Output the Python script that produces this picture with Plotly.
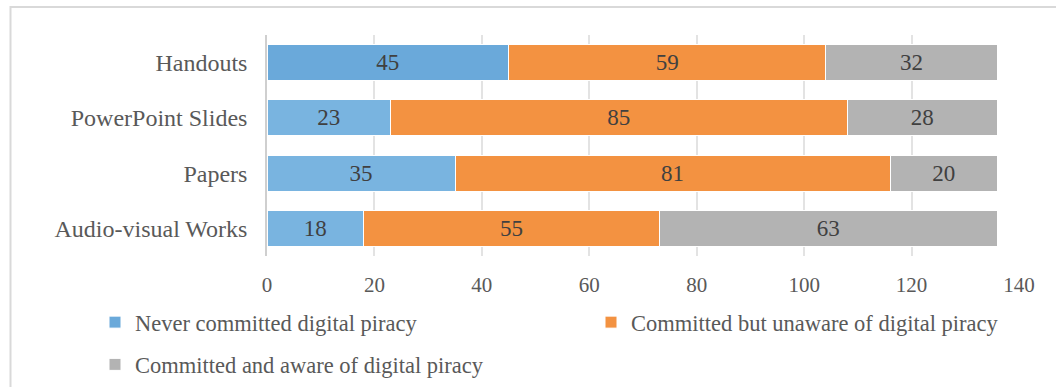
import plotly.graph_objects as go

categories = ["Handouts", "PowerPoint Slides", "Papers", "Audio-visual Works"]
never = [45, 23, 35, 18]
unaware = [59, 85, 81, 55]
aware = [32, 28, 20, 63]
series_names = ["Never committed digital piracy",
                "Committed but unaware of digital piracy",
                "Committed and aware of digital piracy"]
x_ticks = [0, 20, 40, 60, 80, 100, 120, 140]

FONT = "Liberation Serif, Times New Roman, serif"
blue_colors = ["#6AA9DA", "#79B4E0", "#79B4E0", "#79B4E0"]
colors = [blue_colors, "#F39241", "#B3B3B3"]
legend_ids = ["legend", "legend2", "legend"]

# plot area geometry (pixels)
L, R, T, B = 267, 1019, 35, 256
W, H = R - L, B - T


def px_x(p):
    return (p - L) / W


def px_y(p):
    return (B - p) / H


fig = go.Figure()
for i, (name, vals, col, lg) in enumerate(zip(series_names, [never, unaware, aware], colors, legend_ids)):
    fig.add_trace(go.Bar(
        y=categories, x=vals, name=name, orientation="h",
        marker=dict(color=col, line=dict(color="#FFFFFF", width=1)),
        text=[str(v) for v in vals], textposition="inside",
        insidetextanchor="middle", constraintext="none",
        textfont=dict(family=FONT, size=23, color="#404040"),
        hoverinfo="skip", legend=lg, legendgroup="g%d" % i,
    ))

legend_common = dict(orientation="v", xanchor="left", yanchor="top",
                     font=dict(family=FONT, size=22.5, color="#595959"),
                     itemwidth=30, tracegroupgap=10, traceorder="grouped",
                     bgcolor="rgba(0,0,0,0)", borderwidth=0)

fig.update_layout(
    barmode="stack", bargap=0.35,
    width=1056, height=387,
    margin=dict(l=L, r=1056 - R, t=T, b=387 - B, autoexpand=False),
    paper_bgcolor="white", plot_bgcolor="white",
    font=dict(family=FONT, size=22, color="#595959"),
    showlegend=True,
    legend=dict(x=px_x(95), y=px_y(301), **legend_common),
    legend2=dict(x=px_x(591), y=px_y(301), **legend_common),
    xaxis=dict(range=[0, 140], tickvals=x_ticks, ticktext=[str(t) for t in x_ticks],
               showgrid=True, gridcolor="#E3E3E3", gridwidth=1.5,
               zeroline=False, showline=False, ticks="",
               tickfont=dict(family=FONT, size=21, color="#595959"), ticklabelstandoff=14),
    yaxis=dict(categoryorder="array", categoryarray=categories[::-1],
               showline=True, linecolor="#CFCFCF", linewidth=1.5,
               showgrid=False, ticks="", ticklabelstandoff=13,
               tickfont=dict(family=FONT, size=24, color="#595959")),
)

# outer chart border
fig.add_shape(type="rect", xref="paper", yref="paper",
              x0=px_x(10.5), x1=px_x(1100), y0=px_y(420), y1=px_y(7),
              line=dict(color="#D9D9D9", width=2), fillcolor="rgba(0,0,0,0)", layer="below")

fig.write_html("out.html")
